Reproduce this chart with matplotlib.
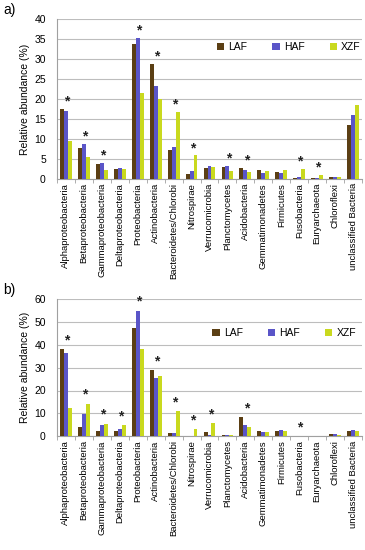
import numpy as np
import matplotlib.pyplot as plt

plt.rcParams['font.family'] = ['Liberation Sans', 'DejaVu Sans']

# Taxa on the x axis
taxa = ['Alphaproteobacteria', 'Betaproteobacteria', 'Gammaproteobacteria',
        'Deltaproteobacteria', 'Proteobacteria', 'Actinobacteria',
        'Bacteroidetes/Chlorobi', 'Nitrospirae', 'Verrucomicrobia',
        'Planctomycetes', 'Acidobacteria', 'Gemmatimonadetes', 'Firmicutes',
        'Fusobacteria', 'Euryarchaeota', 'Chloroflexi', 'unclassified Bacteria']
groups = ['LAF', 'HAF', 'XZF']

# panel a) values (%)
a_laf = [17.6, 7.7, 3.8, 2.4, 33.7, 28.8, 7.2, 1.2, 2.8, 2.9, 2.7, 2.1, 1.8, 0.3, 0.2, 0.5, 13.6]
a_haf = [17.0, 8.8, 4.0, 2.6, 35.3, 23.3, 8.0, 2.0, 3.2, 3.2, 2.2, 1.5, 1.5, 0.5, 0.3, 0.5, 16.0]
a_xzf = [9.4, 5.4, 2.2, 2.5, 21.4, 20.0, 16.8, 5.9, 3.0, 2.0, 1.6, 1.9, 2.1, 2.5, 1.0, 0.5, 18.6]
a_sig = [1, 1, 1, 0, 1, 1, 1, 1, 0, 1, 1, 0, 0, 1, 1, 0, 0]

# panel b) values (%)
b_laf = [38.0, 4.2, 2.4, 2.2, 47.6, 29.1, 1.5, 0.1, 2.0, 0.3, 8.2, 2.3, 2.1, 0.0, 0.1, 0.9, 2.1]
b_haf = [36.5, 9.7, 4.7, 3.0, 55.0, 25.3, 1.5, 0.2, 0.6, 0.4, 4.8, 1.9, 2.6, 0.0, 0.1, 0.9, 2.6]
b_xzf = [12.5, 14.3, 5.5, 4.9, 38.2, 26.3, 10.8, 3.0, 5.8, 0.3, 3.9, 1.8, 2.4, 0.0, 0.1, 0.5, 2.1]
b_sig = [1, 1, 1, 1, 1, 1, 1, 1, 1, 0, 1, 0, 0, 1, 0, 0, 0]

colors = ['#5b3f14', '#5a55c8', '#c9d91e']

fig = plt.figure(figsize=(3.65, 5.5), dpi=100)


def panel(rect, series, sig, ymax, ystep, star_off, leg_xy, tag):
    ax = fig.add_axes(rect)
    x = np.arange(len(taxa))
    w = 0.22
    for i, (vals, c, name) in enumerate(zip(series, colors, groups)):
        ax.bar(x + (i - 1) * w, vals, w, color=c, label=name, zorder=3)
    # significance stars
    for i, s in enumerate(sig):
        if s:
            top = max(v[i] for v in series)
            ax.text(x[i] + 0.05, top + star_off, '*', ha='center', va='center',
                    fontsize=10, fontweight='bold', color='#222222', zorder=4)
    ax.set_xlim(-0.5, len(taxa) - 0.5)
    ax.set_ylim(0, ymax)
    ax.set_yticks(np.arange(0, ymax + 1, ystep))
    ax.yaxis.grid(True, color='#bdbdbd', linewidth=0.8, zorder=0)
    ax.set_xticks(x)
    ax.set_xticklabels(taxa, rotation=90, fontsize=6.8)
    ax.set_xticks(np.arange(-0.5, len(taxa)), minor=True)
    ax.tick_params(axis='x', which='major', length=0, pad=3)
    ax.tick_params(axis='x', which='minor', length=3, color='#a0a0a0')
    ax.tick_params(axis='y', length=0, labelsize=7.5, pad=8)
    for sp in ['top', 'right']:
        ax.spines[sp].set_visible(False)
    ax.spines['left'].set_color('#a0a0a0')
    ax.spines['bottom'].set_color('#a0a0a0')
    ax.set_ylabel('Relative abundance (%)', fontsize=7.5, labelpad=3)
    ax.legend(loc='center', bbox_to_anchor=leg_xy, ncol=3, frameon=False,
              fontsize=7.5, handlelength=0.7, handleheight=0.7,
              handletextpad=0.4, columnspacing=2.4)
    fig.text(0.01, rect[1] + rect[3] + 0.01, tag, fontsize=10)
    return ax


panel([0.156, 0.675, 0.836, 0.29], [a_laf, a_haf, a_xzf], a_sig, 40, 5, 1.8,
      (0.76, 0.825), 'a)')
panel([0.156, 0.207, 0.836, 0.249], [b_laf, b_haf, b_xzf], b_sig, 60, 10, 3.8,
      (0.745, 0.75), 'b)')

fig.savefig('out.png', dpi=100)
